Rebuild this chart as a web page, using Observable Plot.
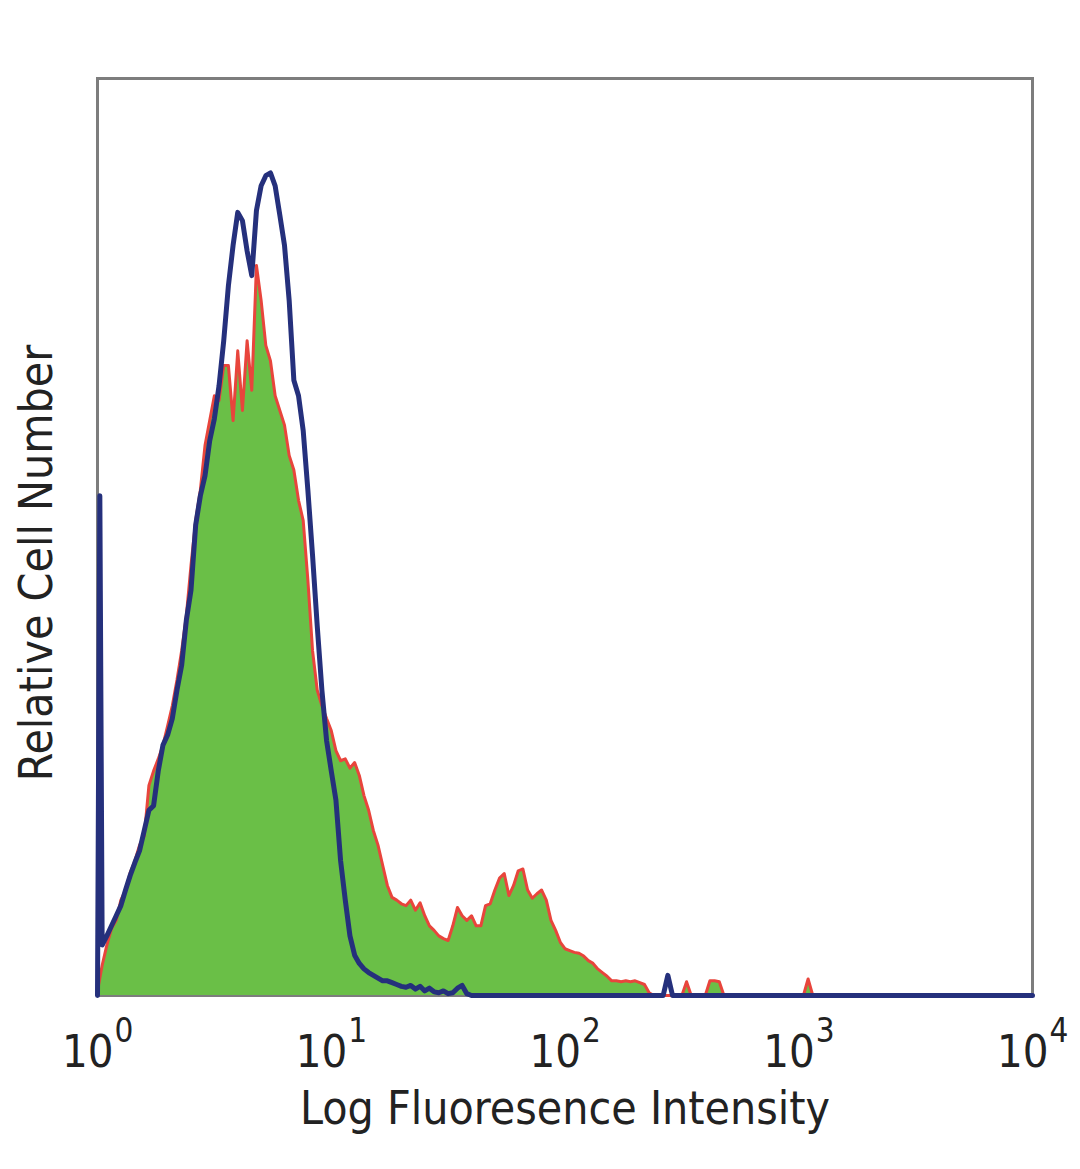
<!DOCTYPE html>
<html>
<head>
<meta charset="utf-8">
<script src="https://cdn.jsdelivr.net/npm/d3@7"></script>
<script src="https://cdn.jsdelivr.net/npm/@observablehq/plot@0.6"></script>
<style>
  html, body { margin: 0; padding: 0; background: #ffffff; }
  #chart { width: 1080px; height: 1169px; }
</style>
</head>
<body>
<div id="chart"></div>
<script>
// Log10 of fluorescence intensity (channel positions) and relative cell counts (0–100 scale)
const isotypeLog = [
  0, 0.01, 0.02, 0.04, 0.06, 0.08, 0.10, 0.12, 0.14, 0.16, 0.18, 0.20, 0.22, 0.24, 0.26, 0.28,
  0.30, 0.32, 0.34, 0.36, 0.38, 0.40, 0.42, 0.44, 0.46, 0.48, 0.50, 0.52, 0.54, 0.56, 0.58,
  0.60, 0.62, 0.64, 0.66, 0.68, 0.70, 0.72, 0.74, 0.76, 0.78, 0.80, 0.82, 0.84, 0.86, 0.88,
  0.90, 0.92, 0.94, 0.96, 0.98, 1.00, 1.02, 1.04, 1.06, 1.08, 1.10, 1.12, 1.14, 1.16, 1.18,
  1.20, 1.22, 1.24, 1.26, 1.28, 1.30, 1.32, 1.34, 1.36, 1.38, 1.40, 1.42, 1.44, 1.46, 1.48,
  1.50, 1.52, 1.54, 1.56, 1.58, 1.60, 2.42, 2.44, 2.46, 4.00
];
const isotypeCount = [
  0, 54.5, 5.5, 6.5, 7.6, 8.7, 9.8, 11.5, 13.1, 14.5, 15.8, 18.0, 20.2, 20.7, 24.5, 27.3,
  28.4, 30.2, 33.3, 36.0, 40.9, 44.2, 51.3, 54.5, 56.7, 60.5, 62.9, 66.5, 71.4, 77.4, 81.8,
  85.4, 84.5, 81.2, 78.5, 85.6, 88.3, 89.4, 89.7, 88.3, 85.1, 81.8, 75.8, 67.1, 65.4, 61.6,
  55.1, 48.0, 40.3, 33.3, 27.8, 24.5, 21.3, 14.7, 10.4, 6.5, 4.4, 3.5, 2.9, 2.5, 2.2,
  1.9, 1.6, 1.6, 1.4, 1.2, 1.0, 0.9, 1.1, 0.7, 1.0, 0.5, 0.8, 0.4, 0.3, 0.5,
  0.2, 0.3, 0.8, 1.1, 0.2, 0, 0, 2.2, 0, 0
];

const stainedLog = [
  0, 0.02, 0.04, 0.06, 0.08, 0.10, 0.12, 0.14, 0.16, 0.18, 0.20, 0.22, 0.24, 0.26, 0.28,
  0.30, 0.32, 0.34, 0.36, 0.38, 0.40, 0.42, 0.44, 0.46, 0.48, 0.50, 0.52, 0.54, 0.56, 0.58,
  0.60, 0.62, 0.64, 0.66, 0.68, 0.70, 0.72, 0.74, 0.76, 0.78, 0.80, 0.82, 0.84, 0.86, 0.88,
  0.90, 0.92, 0.94, 0.96, 0.98, 1.00, 1.02, 1.04, 1.06, 1.08, 1.10, 1.12, 1.14, 1.16, 1.18,
  1.20, 1.22, 1.24, 1.26, 1.28, 1.30, 1.32, 1.34, 1.36, 1.38, 1.40, 1.42, 1.44, 1.46, 1.48,
  1.50, 1.52, 1.54, 1.56, 1.58, 1.60, 1.62, 1.64, 1.66, 1.68, 1.70, 1.72, 1.74, 1.76, 1.78,
  1.80, 1.82, 1.84, 1.86, 1.88, 1.90, 1.92, 1.94, 1.96, 1.98, 2.00, 2.02, 2.04, 2.06, 2.08,
  2.10, 2.12, 2.14, 2.16, 2.18, 2.20, 2.22, 2.24, 2.26, 2.28, 2.30, 2.32, 2.34, 2.36, 2.38,
  2.50, 2.52, 2.54, 2.60, 2.62, 2.64, 2.66, 2.68, 3.02, 3.04, 3.06, 4.00
];
const stainedCount = [
  0.5, 3.3, 5.5, 7.3, 8.2, 10.4, 11.5, 13.4, 14.7, 16.4, 17.4, 22.9, 24.5, 25.8, 27.3,
  29.4, 31.6, 34.4, 37.6, 41.4, 46.9, 51.8, 55.1, 60.0, 62.7, 65.4, 64.9, 68.7, 68.7, 62.7,
  70.3, 63.8, 71.4, 66.0, 79.6, 75.8, 70.9, 69.2, 65.4, 63.8, 62.2, 58.9, 57.3, 54.0, 51.8,
  45.3, 37.6, 33.3, 31.6, 30.2, 28.9, 26.7, 25.6, 25.8, 24.8, 25.4, 24.0, 21.8, 20.2, 18.0,
  16.4, 14.2, 12.0, 10.7, 10.4, 10.0, 9.8, 10.4, 9.3, 10.1, 8.7, 7.6, 7.1, 6.5, 6.2,
  6.0, 7.6, 9.6, 8.7, 8.2, 8.7, 7.6, 7.6, 9.8, 10.0, 11.5, 12.8, 13.3, 10.9, 12.0,
  13.6, 13.8, 11.5, 10.6, 11.1, 11.5, 10.4, 8.2, 7.1, 5.8, 5.1, 4.9, 4.7, 4.6, 4.3,
  3.8, 3.5, 2.9, 2.5, 2.1, 1.6, 1.6, 1.5, 1.6, 1.5, 1.6, 1.4, 1.2, 0.3, 0,
  0, 1.5, 0, 0, 1.6, 1.6, 1.5, 0, 0, 1.8, 0, 0
];

const tickValues = [1, 10, 100, 1000, 10000];
const tickBase = ["10", "10", "10", "10", "10"];
const tickExponents = ["0", "1", "2", "3", "4"];
const xTitle = "Log Fluoresence Intensity";
const yTitle = "Relative Cell Number";

const isotype = isotypeLog.map((L, i) => ({x: 10 ** L, y: isotypeCount[i]}));
const stained = stainedLog.map((L, i) => ({x: 10 ** L, y: stainedCount[i]}));

const FONT = '"DejaVu Sans Condensed", "Liberation Sans Narrow", "DejaVu Sans", sans-serif';

const chart = Plot.plot({
  width: 1080,
  height: 1169,
  marginLeft: 97,
  marginRight: 48,
  marginTop: 78,
  marginBottom: 174,
  x: {type: "log", domain: [1, 10000], axis: null},
  y: {domain: [0, 100], axis: null},
  style: {fontFamily: FONT, background: "#ffffff", overflow: "visible"},
  marks: [
    Plot.frame({stroke: "#7d7d7d", strokeWidth: 3}),
    Plot.areaY(stained, {x: "x", y: "y", fill: "#6abf47"}),
    Plot.line(stained, {x: "x", y: "y", stroke: "#e8453c", strokeWidth: 3}),
    Plot.line(isotype, {x: "x", y: "y", stroke: "#25307c", strokeWidth: 5}),
    Plot.text(tickValues, {x: d => d, frameAnchor: "bottom", dy: 71, dx: 16, textAnchor: "end", text: (d, i) => tickBase[i], fontSize: 45, fill: "#222"}),
    Plot.text(tickValues, {x: d => d, frameAnchor: "bottom", dy: 46, dx: 17, textAnchor: "start", text: (d, i) => tickExponents[i], fontSize: 33, fill: "#222"}),
    Plot.text([xTitle], {frameAnchor: "bottom", dy: 128, text: d => d, fontSize: 46, fill: "#222"}),
    Plot.text([yTitle], {frameAnchor: "left", dx: -60, dy: 26, rotate: -90, textAnchor: "middle", text: d => d, fontSize: 46, fill: "#222"})
  ]
});
document.getElementById("chart").appendChild(chart);
</script>
</body>
</html>
